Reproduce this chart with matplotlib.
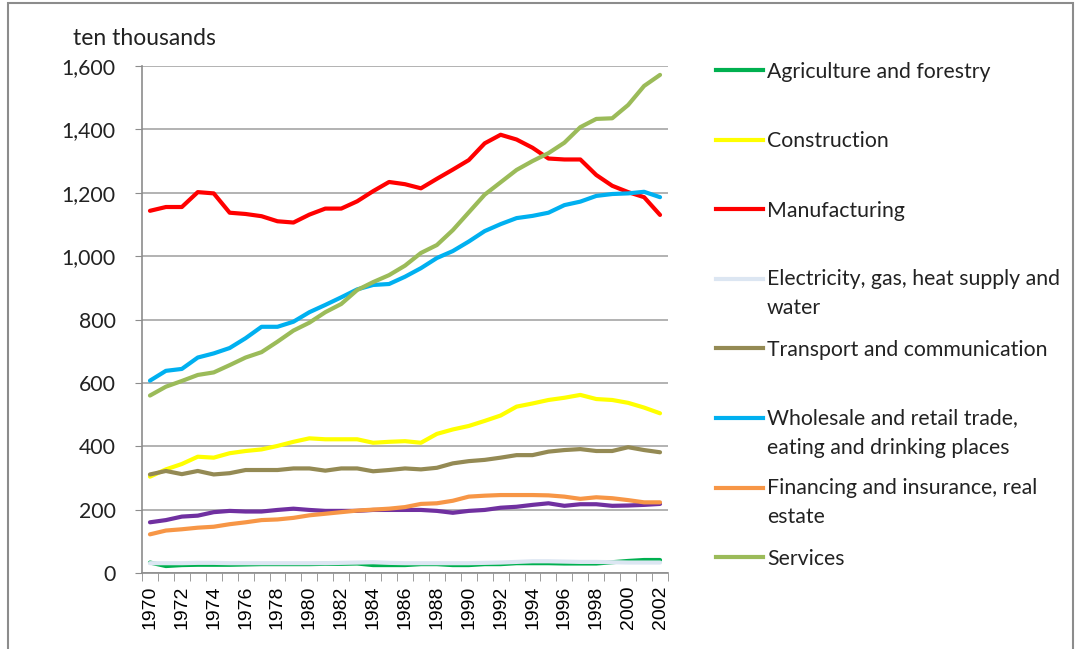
import matplotlib
matplotlib.use('Agg')
import matplotlib.pyplot as plt
from matplotlib.lines import Line2D
from matplotlib.patches import Rectangle
from matplotlib.ticker import FuncFormatter

# data (ten thousands of persons), 1970-2002
years = list(range(1970, 2003))

agriculture = [33, 22, 25, 26, 26, 26, 27, 28, 28, 28, 28, 29, 29, 30, 25, 25, 25,
               28, 28, 25, 25, 28, 28, 31, 31, 31, 30, 30, 30, 34, 38, 41, 41]
construction = [304, 327, 344, 367, 364, 378, 385, 390, 401, 414, 425, 422, 422, 422, 411, 414, 416,
                411, 439, 453, 464, 480, 497, 525, 535, 546, 553, 562, 549, 546, 537, 522, 504]
manufacturing = [1143, 1155, 1155, 1202, 1198, 1137, 1133, 1126, 1110, 1106, 1131, 1150, 1150, 1173, 1205, 1234, 1227,
                 1214, 1244, 1273, 1303, 1356, 1383, 1368, 1342, 1308, 1305, 1305, 1256, 1222, 1202, 1186, 1130]
electricity = [31, 31, 31, 32, 32, 31, 31, 31, 31, 31, 31, 31, 32, 33, 34, 32, 31,
               31, 31, 31, 31, 32, 33, 35, 37, 37, 36, 35, 35, 34, 33, 33, 33]
transport = [311, 322, 312, 322, 311, 315, 325, 325, 325, 330, 330, 323, 330, 330, 321, 325, 330,
             327, 332, 346, 353, 357, 364, 372, 372, 383, 388, 391, 385, 385, 397, 388, 381]
wholesale = [607, 638, 644, 680, 693, 710, 741, 777, 777, 793, 823, 846, 870, 895, 909, 912, 935,
             962, 994, 1016, 1046, 1079, 1101, 1120, 1127, 1137, 1161, 1172, 1190, 1196, 1198, 1203, 1186]
financing = [122, 134, 138, 143, 146, 154, 160, 167, 169, 174, 182, 187, 192, 197, 200, 203, 208,
             218, 220, 228, 241, 244, 246, 246, 246, 245, 241, 234, 239, 236, 230, 223, 223]
services = [560, 588, 606, 625, 633, 656, 680, 697, 730, 765, 790, 823, 849, 893, 918, 940, 970,
            1010, 1035, 1082, 1138, 1194, 1233, 1272, 1300, 1325, 1358, 1407, 1433, 1435, 1477, 1537, 1572]
other = [160, 167, 178, 181, 192, 196, 194, 194, 199, 203, 199, 196, 196, 196, 199, 199, 199,
         199, 196, 190, 196, 199, 206, 209, 215, 220, 212, 217, 217, 212, 213, 215, 218]

labels = ['Agriculture and forestry', 'Construction', 'Manufacturing',
          'Electricity, gas, heat supply and\nwater', 'Transport and communication',
          'Wholesale and retail trade,\neating and drinking places',
          'Financing and insurance, real\nestate', 'Services']
series = [agriculture, construction, manufacturing, electricity, transport,
          wholesale, financing, services]
colors = ['#00B050', '#FFFF00', '#FF0000', '#DCE6F2', '#948A54',
          '#00B0F0', '#F79646', '#9BBB59']

W, H = 1080, 649
fig = plt.figure(figsize=(W / 100, H / 100), dpi=100)
ax = fig.add_axes([142 / W, 1 - 573 / H, (668 - 142) / W, (573 - 66) / H])

x = list(range(len(years)))
ax.plot(x, other, color='#7030A0', lw=3, solid_capstyle='round', zorder=3)
for vals, c in zip(series, colors):
    ax.plot(x, vals, color=c, lw=3, solid_capstyle='round', zorder=3)

ax.set_xlim(-0.5, len(years) - 0.5)
ax.set_ylim(0, 1600)
ax.set_yticks(range(0, 1601, 200))
ax.yaxis.set_major_formatter(FuncFormatter(lambda v, p: f'{int(v):,}'))
ax.grid(axis='y', color='#A6A6A6', lw=1.2)
ax.set_axisbelow(True)

ax.set_xticks(x[::2])
ax.set_xticklabels([str(y) for y in years[::2]], rotation=90,
                   family='Liberation Sans', fontsize=14)
ax.set_xticks([i - 0.5 for i in range(len(years) + 1)], minor=True)
ax.tick_params(axis='x', which='major', length=0, pad=9)
ax.tick_params(axis='x', which='minor', length=6, color='#8C8C8C')
ax.tick_params(axis='y', length=5, color='#8C8C8C', pad=14, labelsize=15.3)
for lbl in ax.get_yticklabels():
    lbl.set_family('Lato')
    lbl.set_color('#222222')

for s in ['top', 'right']:
    ax.spines[s].set_visible(False)
for s in ['left', 'bottom']:
    ax.spines[s].set_color('#8C8C8C')
    ax.spines[s].set_linewidth(1.2)

fig.text(73 / W, 1 - 45 / H, 'ten thousands', family='Lato', fontsize=16.5,
         va='baseline', ha='left', color='#222222')

# legend, evenly spaced entries; handle lines up with the first text line
line_gap = 28
for i, (lab, c) in enumerate(zip(labels, colors)):
    yc = 70 + i * 69.6
    n_extra = lab.count('\n')
    fig.add_artist(Line2D([716 / W, 763 / W], [1 - yc / H, 1 - yc / H],
                          color=c, lw=3, transform=fig.transFigure))
    fig.text(767 / W, 1 - (yc + 7.5 + n_extra * line_gap) / H, lab,
             family='Lato', fontsize=15.3, va='baseline', ha='left',
             linespacing=1.57, color='#222222')

fig.add_artist(Rectangle((8 / W, -0.05), (1073 - 8) / W, 1.05 - 3 / H,
                         transform=fig.transFigure, fill=False,
                         edgecolor='#8C8C8C', lw=1.5))

fig.savefig('out.png', dpi=100)
